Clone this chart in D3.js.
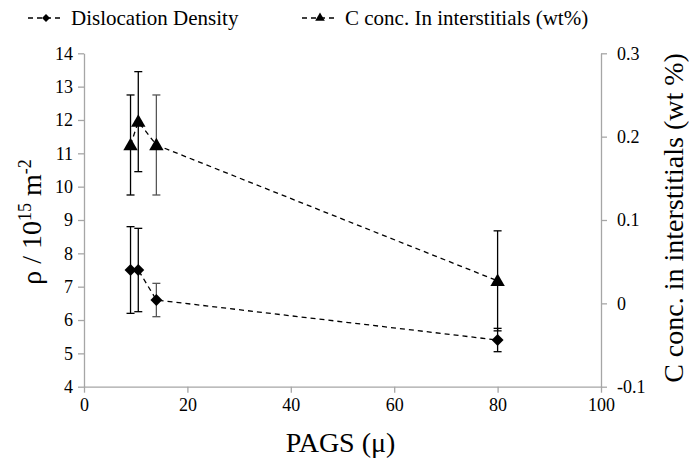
<!DOCTYPE html>
<html>
<head>
<meta charset="utf-8">
<script src="https://cdn.jsdelivr.net/npm/d3@7/dist/d3.min.js"></script>
</head>
<body style="margin:0">
<svg id="fig" width="689" height="463"></svg>
<script>
// Prior austenite grain size (µm)
const pags = [9, 10.5, 14, 80];
// Dislocation density (10^15 m^-2) and its error
const density = [7.5, 7.5, 6.6, 5.4];
const densityErr = [1.3, 1.25, 0.5, 0.35];
// Carbon in interstitials (wt%) and its error
const carbon = [0.19, 0.218, 0.19, 0.027];
const carbonErr = [0.06, 0.06, 0.06, 0.06];

const xTicks = [0, 20, 40, 60, 80, 100];
const leftTicks = [4, 5, 6, 7, 8, 9, 10, 11, 12, 13, 14];
const rightTicks = [-0.1, 0, 0.1, 0.2, 0.3];
const errColors = ["#000", "#000", "#555", "#000"];

const FONT = "'Liberation Serif'";

const svg = d3.select("#fig");
const m = { left: 84, right: 601, top: 53.3, bottom: 386.7 };

const x = d3.scaleLinear().domain([0, 100]).range([m.left, m.right]);
const yL = d3.scaleLinear().domain([4, 14]).range([m.bottom, m.top]);
const yR = d3.scaleLinear().domain([-0.1, 0.3]).range([m.bottom, m.top]);

// serif label helper: family and size set directly on each text element
function serif(sel, size) {
  return sel.attr("font-size", size)
    .style("font-family", FONT, "important").style("font-size", size + "px", "important");
}

function styleAxis(g) {
  g.attr("font-family", null).attr("font-size", null);
  g.selectAll(".domain").attr("stroke", "#a6a6a6").attr("stroke-width", 1.3);
  g.selectAll(".tick line").attr("stroke", "#a6a6a6").attr("stroke-width", 1.3);
  serif(g.selectAll(".tick text").attr("fill", "#000"), 18);
}

svg.append("g").attr("transform", `translate(0,${m.bottom})`)
  .call(d3.axisBottom(x).tickValues(xTicks).tickSize(6).tickSizeOuter(0).tickPadding(6))
  .call(styleAxis);

svg.append("g").attr("transform", `translate(${m.left},0)`)
  .call(d3.axisLeft(yL).tickValues(leftTicks).tickSize(6).tickSizeOuter(0).tickPadding(5))
  .call(styleAxis);

svg.append("g").attr("transform", `translate(${m.right},0)`)
  .call(d3.axisRight(yR).tickValues(rightTicks).tickFormat(d => String(d)).tickSize(6).tickSizeOuter(0).tickPadding(10))
  .call(styleAxis);

// error bars
function errorBars(vals, errs, y, cap) {
  const g = svg.append("g");
  vals.forEach((v, i) => {
    const cx = x(pags[i]);
    const y1 = y(v + errs[i]), y2 = y(v - errs[i]);
    const c = errColors[i];
    g.append("line").attr("x1", cx).attr("x2", cx).attr("y1", y1).attr("y2", y2).attr("stroke", c).attr("stroke-width", 1.3);
    [y1, y2].forEach(yy => g.append("line").attr("x1", cx - cap).attr("x2", cx + cap).attr("y1", yy).attr("y2", yy).attr("stroke", c).attr("stroke-width", 1.3));
  });
}
errorBars(density, densityErr, yL, 4);
errorBars(carbon, carbonErr, yR, 4);

// dashed series lines
const lineL = d3.line().x((d, i) => x(pags[i])).y(d => yL(d));
const lineR = d3.line().x((d, i) => x(pags[i])).y(d => yR(d));
svg.append("path").attr("d", lineL(density)).attr("fill", "none").attr("stroke", "#000").attr("stroke-width", 1.3).attr("stroke-dasharray", "5,4");
svg.append("path").attr("d", lineR(carbon)).attr("fill", "none").attr("stroke", "#000").attr("stroke-width", 1.3).attr("stroke-dasharray", "5,4");

// markers
const diamond = d3.symbol().type(d3.symbolDiamond2).size(90);
const triangle = d3.symbol().type(d3.symbolTriangle).size(90);
svg.append("g").selectAll("path").data(density).join("path")
  .attr("d", diamond).attr("transform", (d, i) => `translate(${x(pags[i])},${yL(d)})`).attr("fill", "#000");
svg.append("g").selectAll("path").data(carbon).join("path")
  .attr("d", triangle).attr("transform", (d, i) => `translate(${x(pags[i])},${yR(d) + 1})`).attr("fill", "#000");

// axis titles
serif(svg.append("text"), 28).attr("x", (m.left + m.right) / 2 - 2).attr("y", 452).attr("text-anchor", "middle")
  .text("PAGS (μ)");

const lt = serif(svg.append("text"), 28).attr("transform", `translate(41,${(m.top + m.bottom) / 2 + 2}) rotate(-90)`)
  .attr("text-anchor", "middle");
lt.append("tspan").text("ρ / 10");
serif(lt.append("tspan"), 18).attr("dy", -10).text("15");
lt.append("tspan").attr("dy", 10).text(" m");
serif(lt.append("tspan"), 18).attr("dy", -10).text("-2");

serif(svg.append("text"), 28).attr("transform", `translate(683,${(m.top + m.bottom) / 2 - 2}) rotate(-90)`)
  .attr("text-anchor", "middle").text("C conc. in interstitials (wt %)");

// legend
const legend = [
  { label: "Dislocation Density", type: d3.symbolDiamond2, x: 28 },
  { label: "C conc. In interstitials (wt%)", type: d3.symbolTriangle, x: 302 }
];
legend.forEach(l => {
  const g = svg.append("g").attr("transform", `translate(${l.x},18)`);
  g.append("line").attr("x1", 0).attr("x2", 36).attr("y1", 0).attr("y2", 0)
    .attr("stroke", "#000").attr("stroke-width", 1.3).attr("stroke-dasharray", "5,4");
  g.append("path").attr("d", d3.symbol().type(l.type).size(40)()).attr("transform", "translate(18,0)").attr("fill", "#000");
  serif(g.append("text"), 21).attr("x", 43).attr("y", 7).text(l.label);
});
</script>
</body>
</html>
